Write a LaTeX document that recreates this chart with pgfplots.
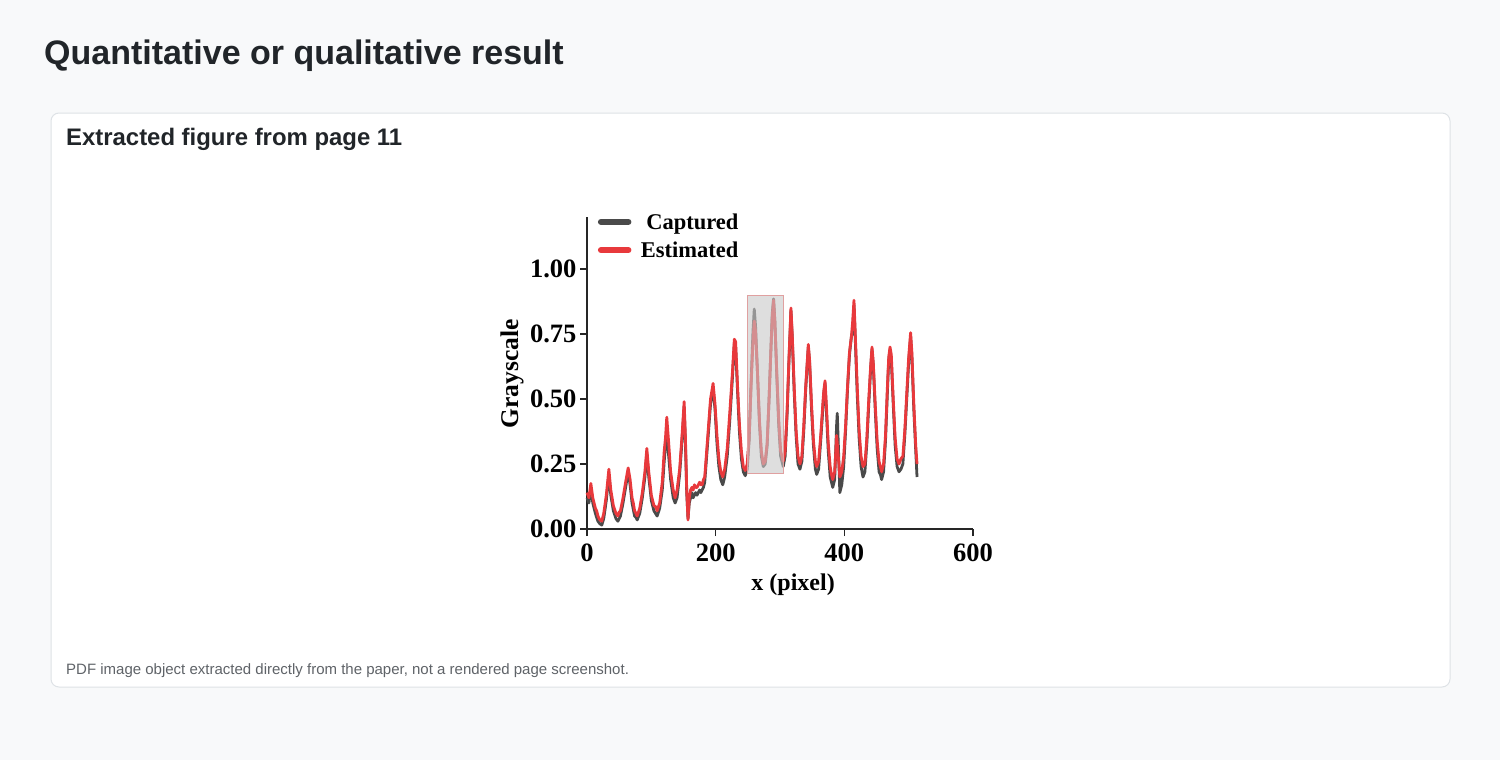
\documentclass[border=0pt]{standalone}
\usepackage{pgfplots}
\pgfplotsset{compat=1.18}
\usepackage{fontspec}
\setmainfont{Liberation Serif}
\newfontfamily\sans{Liberation Sans}
\definecolor{pagebg}{HTML}{F8F9FA}
\definecolor{cardborder}{HTML}{DEE2E6}
\definecolor{titlecol}{HTML}{212529}
\definecolor{capcol}{HTML}{5F6368}
\definecolor{capt}{HTML}{4A4A4A}
\definecolor{esti}{HTML}{E8393C}
\definecolor{rectedge}{HTML}{E0A0A0}
\definecolor{rectfill}{HTML}{C8C8C8}
\begin{document}
\begin{tikzpicture}
\path[use as bounding box] (0pt,0pt) rectangle (1500pt,-760pt);
\fill[pagebg] (0pt,0pt) rectangle (1500pt,-760pt);
\draw[cardborder, fill=white, line width=1pt, rounded corners=8pt] (51pt,-113pt) rectangle (1450pt,-687pt);
\node[anchor=base west, inner sep=0pt, text=titlecol, font=\sans\bfseries\fontsize{34pt}{40pt}\selectfont] at (44pt,-65pt) {Quantitative or qualitative result};
\node[anchor=base west, inner sep=0pt, text=titlecol, font=\sans\bfseries\fontsize{23.9pt}{28pt}\selectfont] at (66pt,-145pt) {Extracted figure from page 11};
\node[anchor=base west, inner sep=0pt, text=capcol, font=\sans\fontsize{15pt}{18pt}\selectfont] at (66pt,-674pt) {PDF image object extracted directly from the paper, not a rendered page screenshot.};
\begin{axis}[
  at={(587pt,-529pt)}, anchor=south west,
  scale only axis, width=386pt, height=312pt,
  xmin=0, xmax=600, ymin=0, ymax=1.2,
  axis lines=left, axis line style={-, line width=1.4pt, black!85},
  tick align=outside, major tick length=7pt,
  tick style={line width=1.4pt, black!85},
  xtick={0,200,400,600}, xticklabels={0,200,400,600},
  ytick={0,0.25,0.5,0.75,1}, yticklabels={0.00,0.25,0.50,0.75,1.00},
  ticklabel style={font=\bfseries\fontsize{26.5pt}{30pt}\selectfont},
  xticklabel style={yshift=-4pt},
  xlabel={x (pixel)}, ylabel={Grayscale},
  xlabel style={font=\bfseries\fontsize{24pt}{28pt}\selectfont, at={(axis description cs:0.534,0)}, anchor=base, yshift=-61pt},
  ylabel style={font=\bfseries\fontsize{25.5pt}{30pt}\selectfont, at={(axis description cs:-0.194,0.497)}, anchor=center},
  legend style={draw=none, fill=none, at={(axis description cs:0.02,1.025)}, anchor=north west, font=\bfseries\fontsize{22.5pt}{26pt}\selectfont, row sep=7pt},
  legend cell align=right,
  legend image code/.code={\path[draw=none] (0pt,0pt) -- (38pt,0pt); \draw[#1, line width=6pt, line cap=round] (0pt,0pt) -- (27.5pt,0pt);},
  clip=false,
]
\addplot[capt, line width=2.8pt, line join=round] coordinates {
(0,0.12)(3,0.10)(6,0.16)(9,0.10)(13,0.06)(15,0.045)(17,0.03)(20,0.02)(23,0.015)(26,0.04)(30,0.11)(34,0.21)(37,0.13)(41,0.07)(43,0.055)(45,0.04)(48,0.03)(52,0.05)(56,0.10)(60,0.16)(64,0.22)(67,0.17)(70,0.10)(74,0.05)(76,0.045)(78,0.035)(82,0.06)(86,0.12)(90,0.20)(93,0.29)(96,0.20)(100,0.11)(104,0.07)(109,0.05)(113,0.08)(117,0.15)(120,0.26)(122,0.32)(124,0.36)(127,0.28)(130,0.19)(134,0.12)(137,0.10)(140,0.12)(144,0.21)(148,0.35)(151,0.47)(153,0.33)(155,0.14)(157,0.04)(159,0.10)(161,0.12)(163,0.14)(165,0.12)(167,0.13)(169,0.14)(171,0.13)(173,0.14)(175,0.15)(177,0.14)(179,0.15)(181,0.16)(183,0.18)(186,0.28)(189,0.38)(192,0.48)(196,0.54)(199,0.46)(202,0.33)(205,0.24)(208,0.19)(211,0.17)(214,0.20)(218,0.28)(222,0.42)(226,0.58)(229,0.71)(231,0.70)(234,0.53)(237,0.37)(240,0.27)(243,0.22)(246,0.205)(249,0.23)(252,0.34)(255,0.56)(258,0.76)(260,0.846)(262,0.78)(265,0.60)(268,0.41)(271,0.28)(274,0.24)(277,0.25)(280,0.32)(283,0.50)(286,0.70)(288,0.83)(290,0.885)(292,0.80)(295,0.59)(298,0.40)(301,0.28)(305,0.24)(308,0.28)(311,0.44)(314,0.65)(317,0.84)(319,0.74)(322,0.53)(325,0.36)(328,0.25)(331,0.23)(334,0.26)(337,0.38)(340,0.54)(344,0.70)(346,0.64)(349,0.46)(352,0.32)(355,0.23)(357,0.21)(360,0.23)(363,0.33)(366,0.44)(368,0.52)(370,0.56)(372,0.46)(375,0.30)(378,0.20)(380,0.18)(382,0.16)(385,0.19)(388,0.40)(389,0.445)(391,0.30)(393,0.14)(396,0.17)(399,0.24)(402,0.38)(405,0.54)(408,0.67)(411,0.74)(413,0.76)(415,0.86)(417,0.73)(420,0.52)(423,0.35)(426,0.24)(429,0.20)(432,0.22)(435,0.33)(438,0.48)(441,0.62)(443,0.69)(445,0.63)(448,0.46)(451,0.31)(454,0.22)(456,0.21)(458,0.19)(461,0.22)(464,0.34)(467,0.53)(469,0.65)(471,0.69)(473,0.65)(476,0.48)(479,0.32)(482,0.24)(485,0.22)(488,0.23)(491,0.25)(494,0.36)(497,0.50)(500,0.64)(503,0.74)(505,0.66)(508,0.46)(511,0.30)(513,0.20)
};
\addlegendentry{Captured}
\addplot[esti, line width=2.8pt, line join=round] coordinates {
(0,0.14)(3,0.12)(6,0.175)(9,0.12)(11,0.10)(13,0.08)(15,0.07)(17,0.05)(20,0.035)(23,0.03)(26,0.06)(30,0.13)(34,0.23)(37,0.15)(39,0.12)(41,0.09)(45,0.06)(48,0.05)(50,0.065)(52,0.07)(56,0.12)(60,0.18)(64,0.235)(67,0.19)(70,0.12)(72,0.10)(74,0.07)(78,0.05)(82,0.08)(86,0.14)(90,0.22)(93,0.31)(96,0.22)(100,0.13)(102,0.11)(104,0.09)(107,0.085)(109,0.07)(113,0.10)(117,0.18)(120,0.30)(122,0.35)(124,0.43)(127,0.33)(130,0.22)(134,0.15)(137,0.12)(140,0.15)(144,0.23)(148,0.37)(151,0.49)(153,0.35)(155,0.15)(157,0.035)(159,0.12)(161,0.15)(163,0.16)(165,0.15)(167,0.17)(169,0.16)(171,0.16)(173,0.17)(175,0.18)(177,0.17)(179,0.17)(181,0.19)(183,0.20)(186,0.30)(189,0.40)(192,0.50)(196,0.56)(199,0.48)(202,0.36)(205,0.27)(208,0.22)(211,0.20)(214,0.23)(218,0.31)(222,0.45)(226,0.60)(229,0.73)(231,0.72)(234,0.55)(237,0.40)(240,0.30)(243,0.24)(246,0.225)(249,0.25)(252,0.35)(255,0.55)(258,0.72)(260,0.80)(262,0.76)(265,0.60)(268,0.42)(271,0.30)(274,0.25)(277,0.26)(280,0.33)(283,0.50)(286,0.70)(288,0.82)(290,0.88)(292,0.80)(295,0.60)(298,0.42)(301,0.30)(305,0.26)(308,0.30)(311,0.45)(314,0.66)(317,0.85)(319,0.75)(322,0.55)(325,0.38)(328,0.28)(331,0.25)(334,0.28)(337,0.40)(340,0.55)(344,0.71)(346,0.65)(349,0.48)(352,0.34)(355,0.26)(357,0.24)(360,0.26)(363,0.35)(366,0.46)(368,0.53)(370,0.57)(372,0.48)(375,0.33)(378,0.24)(380,0.21)(382,0.19)(385,0.22)(388,0.36)(390,0.30)(393,0.20)(396,0.22)(399,0.28)(402,0.40)(405,0.55)(408,0.68)(411,0.74)(413,0.80)(415,0.88)(417,0.75)(420,0.55)(423,0.38)(426,0.28)(429,0.24)(432,0.25)(435,0.35)(438,0.50)(441,0.63)(443,0.70)(445,0.64)(448,0.48)(451,0.34)(454,0.26)(456,0.24)(458,0.22)(461,0.25)(464,0.36)(467,0.55)(469,0.66)(471,0.70)(473,0.67)(476,0.50)(479,0.35)(482,0.27)(485,0.25)(488,0.27)(491,0.28)(494,0.38)(497,0.52)(500,0.66)(503,0.755)(505,0.68)(508,0.48)(511,0.32)(513,0.25)
};
\addlegendentry{Estimated}
\draw[rectedge, line width=0.8pt, fill=rectfill, fill opacity=0.6] (axis cs:249,0.215) rectangle (axis cs:305,0.9);
\end{axis}
\end{tikzpicture}
\end{document}
